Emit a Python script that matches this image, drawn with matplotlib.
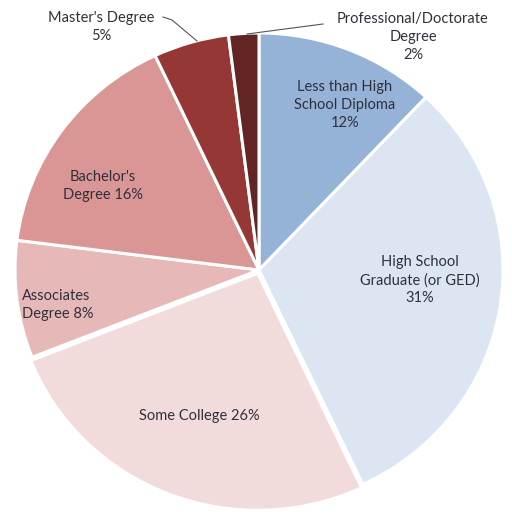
import matplotlib
matplotlib.use("Agg")
import matplotlib.pyplot as plt

categories = ["Less than High School Diploma", "High School Graduate (or GED)", "Some College",
              "Associates Degree", "Bachelor's Degree", "Master's Degree", "Professional/Doctorate Degree"]
values = [12, 31, 26, 8, 16, 5, 2]
labels = ["Less than High\nSchool Diploma\n12%", "High School\nGraduate (or GED)\n31%", "Some College 26%",
          "Associates\nDegree 8%", "Bachelor's\nDegree 16%", "Master's Degree\n5%",
          "Professional/Doctorate\nDegree\n2%"]
colors = ["#95b3d7", "#dce6f2", "#f2dcdb", "#e6b9b8", "#d99694", "#953735", "#632523"]

W, H = 512, 515
fig = plt.figure(figsize=(W / 100, H / 100), dpi=100)
ax = fig.add_axes([15 / W, 8 / H, 488 / W, 474 / H])
explode = [0, 0, 0.015, 0, 0, 0, 0]
ax.pie(values, colors=colors, startangle=90, counterclock=False, explode=explode,
       wedgeprops=dict(edgecolor="white", linewidth=2.2))
ax.set_aspect("auto")
ax.set_xlim(-1, 1)
ax.set_ylim(-1, 1)
ax.axis("off")

tc = "#30303c"
fam = ["Lato", "DejaVu Sans"]
def px(x, y):
    return x / W, 1 - y / H

pos = [(345, 105, "center"), (420, 280, "center"), (199, 416, "center"),
       (22, 305, "left"), (103, 186, "center"), (101, 27, "center"), (413, 37, "center")]
for lab, (x, y, ha) in zip(labels, pos):
    fx, fy = px(x, y)
    fig.text(fx, fy, lab, ha=ha, va="center", multialignment="center" if ha == "center" else "left",
             fontsize=10.5, color=tc, family=fam, linespacing=1.35)

# leader lines
fig.add_artist(plt.Line2D([163 / W, 172 / W, 197 / W], [1 - 17 / H, 1 - 20 / H, 1 - 41 / H],
                          color="#555555", linewidth=0.8))
fig.add_artist(plt.Line2D([247 / W, 323 / W], [1 - 34 / H, 1 - 24 / H],
                          color="#555555", linewidth=0.8))

fig.savefig("out.png", dpi=100, facecolor="white")
